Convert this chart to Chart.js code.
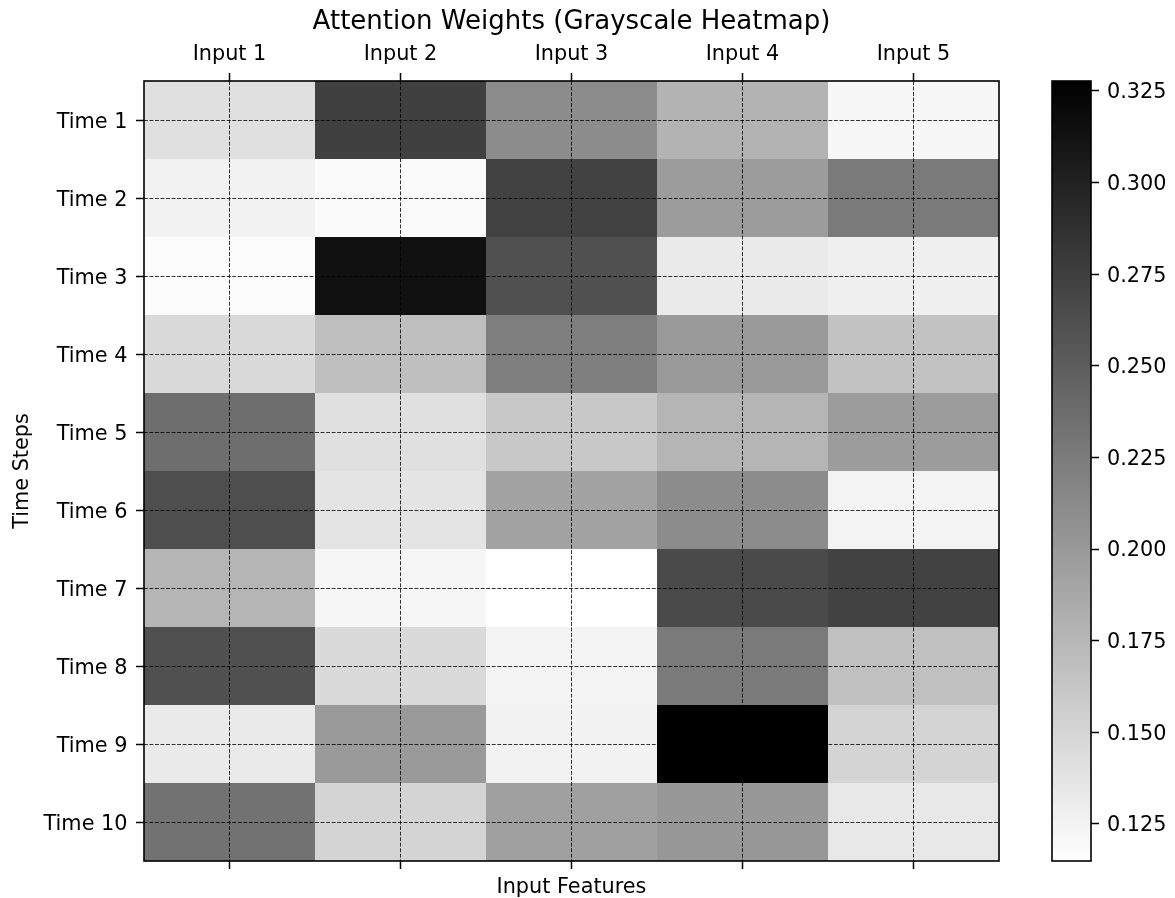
<!DOCTYPE html>
<html>
<head>
<meta charset="utf-8">
<title>Attention Weights</title>
<script src="https://cdn.jsdelivr.net/npm/chart.js@4.4.1/dist/chart.umd.min.js"></script>
<style>
  html, body { margin: 0; padding: 0; background: #ffffff; }
  #wrap { position: relative; width: 1175px; height: 898px; }
  #heat { position: absolute; left: 0; top: 0; }
  #cbar { position: absolute; left: 1040px; top: 0; }
</style>
</head>
<body>
<div id="wrap">
  <canvas id="heat" width="1010" height="898"></canvas>
  <canvas id="cbar" width="135" height="898"></canvas>
</div>
<script>
// Row and column labels
const timeLabels = ['Time 1', 'Time 2', 'Time 3', 'Time 4', 'Time 5',
                    'Time 6', 'Time 7', 'Time 8', 'Time 9', 'Time 10'];
const inputLabels = ['Input 1', 'Input 2', 'Input 3', 'Input 4', 'Input 5'];

// Attention weight per time step (Time 1 .. Time 10), one array per input feature
const input1 = [0.1408, 0.1257, 0.1174, 0.1466, 0.2359, 0.2626, 0.1767, 0.2609, 0.1324, 0.2326];
const input2 = [0.2743, 0.1191, 0.3143, 0.1683, 0.1408, 0.1374, 0.1224, 0.1458, 0.1992, 0.1508];
const input3 = [0.2109, 0.2726, 0.2609, 0.2217, 0.1608, 0.1917, 0.1149, 0.1249, 0.1257, 0.1942];
const input4 = [0.1783, 0.1975, 0.1324, 0.1992, 0.1767, 0.2109, 0.2659, 0.2259, 0.3277, 0.2009];
const input5 = [0.1216, 0.2259, 0.1283, 0.1658, 0.1975, 0.1249, 0.2726, 0.1675, 0.1508, 0.1341];

// Colour bar tick values
const colorbarTicks = [0.125, 0.150, 0.175, 0.200, 0.225, 0.250, 0.275, 0.300, 0.325];

const columns = [input1, input2, input3, input4, input5];
const allValues = columns.flat();
const vmin = Math.min(...allValues);
const vmax = Math.max(...allValues);

// Reversed grayscale: low weight -> white, high weight -> black
function grayFor(v) {
  const t = Math.min(1, Math.max(0, (v - vmin) / (vmax - vmin)));
  const g = Math.round(255 * (1 - t));
  return `rgb(${g},${g},${g})`;
}

const FONT = 'DejaVu Sans';
Chart.defaults.font.family = FONT;
Chart.defaults.font.size = 20.8;
Chart.defaults.color = '#000000';

// Solid box around the plotting area
const framePlugin = {
  id: 'frame',
  afterDraw(chart) {
    const { ctx, chartArea: a } = chart;
    ctx.save();
    ctx.strokeStyle = '#000000';
    ctx.lineWidth = 1.6;
    ctx.strokeRect(a.left, a.top, a.right - a.left, a.bottom - a.top);
    ctx.restore();
  }
};

// Shift a vertical axis' tick labels down so the digits/caps sit centred on the tick
function nudgeLabels(dy) {
  return (scale) => {
    if (scale.$nudged) return;
    const compute = scale._computeLabelItems;
    scale._computeLabelItems = function (area) {
      const items = compute.call(this, area);
      items.forEach((it) => { it.textOffset += dy; });
      return items;
    };
    scale.$nudged = true;
  };
}

const gridDash = [3.85, 1.67];
const centreTicks = (scale) => {
  scale.ticks = inputLabels.map((_, i) => ({ value: i }));
};

// Each input feature is one dataset; each cell is a floating bar spanning its column
const datasets = columns.map((col, j) => ({
  label: inputLabels[j],
  data: col.map(() => [j - 0.5, j + 0.5]),
  backgroundColor: col.map(grayFor),
  borderWidth: 0,
  barPercentage: 1,
  categoryPercentage: 1,
  grouped: false,
  inflateAmount: 0
}));

new Chart(document.getElementById('heat'), {
  type: 'bar',
  data: { labels: timeLabels, datasets },
  options: {
    indexAxis: 'y',
    responsive: false,
    animation: false,
    events: [],
    layout: { padding: { left: 0, right: 11, top: 0, bottom: 0 } },
    plugins: { legend: { display: false }, tooltip: { enabled: false } },
    scales: {
      x: {
        type: 'linear',
        position: 'top',
        min: -0.5,
        max: 4.5,
        afterBuildTicks: centreTicks,
        afterFit: (s) => { s.height = 81; },
        ticks: {
          padding: 5.5,
          maxRotation: 0,
          autoSkip: false,
          callback: (v) => inputLabels[v]
        },
        grid: {
          z: 1,
          color: 'rgba(0,0,0,0.8)',
          lineWidth: 1,
          tickLength: 8,
          tickWidth: 1.5,
          tickColor: '#000000'
        },
        border: { display: false, dash: gridDash },
        title: {
          display: true,
          text: 'Attention Weights (Grayscale Heatmap)',
          font: { size: 26 },
          padding: { top: 7, bottom: 0 }
        }
      },
      xb: {
        type: 'linear',
        position: 'bottom',
        min: -0.5,
        max: 4.5,
        afterBuildTicks: centreTicks,
        afterFit: (s) => { s.height = 37; },
        ticks: { padding: 0, maxRotation: 0, autoSkip: false, callback: () => '' },
        grid: {
          drawOnChartArea: false,
          tickLength: 8,
          tickWidth: 1.5,
          tickColor: '#000000'
        },
        border: { display: false },
        title: {
          display: true,
          text: 'Input Features',
          font: { lineHeight: 1.0 },
          padding: { top: 0, bottom: 0 }
        }
      },
      y: {
        type: 'category',
        position: 'left',
        offset: true,
        afterUpdate: nudgeLabels(2.5),
        afterFit: (s) => { s.width = 144; },
        ticks: { padding: 8.5, autoSkip: false },
        grid: {
          z: 1,
          offset: false,
          color: 'rgba(0,0,0,0.8)',
          lineWidth: 1,
          tickLength: 8,
          tickWidth: 1.5,
          tickColor: '#000000'
        },
        border: { display: false, dash: gridDash },
        title: {
          display: true,
          text: 'Time Steps',
          padding: { top: 10, bottom: 0 }
        }
      }
    }
  },
  plugins: [framePlugin]
});

// Colour bar: one floating bar spanning the value range, filled with the same ramp
new Chart(document.getElementById('cbar'), {
  type: 'bar',
  data: {
    labels: [''],
    datasets: [{
      data: [[vmin, vmax]],
      backgroundColor: (c) => {
        const a = c.chart.chartArea;
        if (!a) return '#888888';
        const g = c.chart.ctx.createLinearGradient(0, a.bottom, 0, a.top);
        g.addColorStop(0, grayFor(vmin));
        g.addColorStop(1, grayFor(vmax));
        return g;
      },
      borderWidth: 0,
      barPercentage: 1,
      categoryPercentage: 1,
      inflateAmount: 0
    }]
  },
  options: {
    responsive: false,
    animation: false,
    events: [],
    layout: { padding: { left: 12, right: 0, top: 81, bottom: 37 } },
    plugins: { legend: { display: false }, tooltip: { enabled: false } },
    scales: {
      x: { display: false },
      y: {
        position: 'right',
        min: vmin,
        max: vmax,
        afterBuildTicks: (s) => { s.ticks = colorbarTicks.map((v) => ({ value: v })); },
        afterUpdate: nudgeLabels(2),
        afterFit: (s) => { s.width = 84; },
        ticks: { padding: 8, callback: (v) => Number(v).toFixed(3) },
        grid: {
          drawOnChartArea: false,
          tickLength: 8,
          tickWidth: 1.5,
          tickColor: '#000000'
        },
        border: { display: false }
      }
    }
  },
  plugins: [framePlugin]
});
</script>
</body>
</html>
